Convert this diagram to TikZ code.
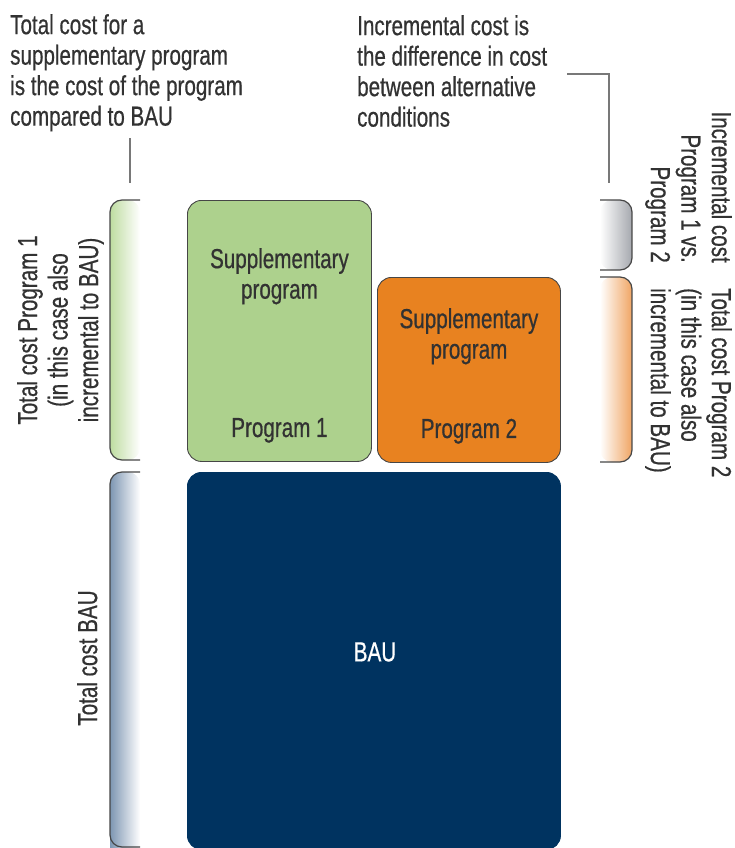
\documentclass[tikz,border=0pt]{standalone}
\usepackage{fontspec}
\setmainfont{Liberation Sans}[FakeStretch=0.75,FakeBold=0.6]
\usetikzlibrary{positioning}

\definecolor{txtgray}{RGB}{50,50,50}
\definecolor{boxline}{RGB}{70,70,70}
\definecolor{leadgray}{RGB}{120,120,120}
\definecolor{progone}{RGB}{173,209,141}
\definecolor{progtwo}{RGB}{232,130,32}
\definecolor{baunavy}{RGB}{0,51,96}
\definecolor{brgreen}{RGB}{190,220,160}
\definecolor{brbau}{RGB}{125,150,178}
\definecolor{brgray}{RGB}{165,168,174}
\definecolor{brorange}{RGB}{240,165,100}

\begin{document}
\begin{tikzpicture}[x=1pt,y=-1pt,
    every node/.style={inner sep=0pt,text=txtgray,font=\fontsize{27.5}{30.5}\selectfont},
    costbox/.style={draw=boxline,line width=0.9pt,rounded corners=14pt,anchor=north west},
    brace/.style={draw=boxline,line width=1.2pt,rounded corners=12pt},
    lead/.style={draw=leadgray,line width=2.6pt}]
\useasboundingbox (0,0) rectangle (735,848);

% notes on top
\node (notea) [anchor=north west,align=left] at (10,14) {Total cost for a\\supplementary program\\is the cost of the program\\compared to BAU};
\node (noteb) [anchor=north west,align=left] at (357,15) {Incremental cost is\\the difference in cost\\between alternative\\conditions};
\coordinate (la) at (130,138); \coordinate (lb) at (130,183);
\coordinate (ra) at (567,74); \coordinate (rb) at (609,183);
\draw [lead] (la) -- (lb);
\draw [lead] (ra) -| (rb);

% cost blocks
\node (p1) [costbox,fill=progone,minimum width=184pt,minimum height=261pt] at (187,200) {};
\node (p2) [costbox,fill=progtwo,minimum width=183pt,minimum height=185pt] at (377,277) {};
\node (bau) [costbox,fill=baunavy,draw=baunavy,minimum width=373pt,minimum height=377pt] at (187,472) {};
\node (s1) [below=48pt of p1.north,align=center] {Supplementary\\program};
\node (n1) [above=19pt of p1.south] {Program 1};
\node (s2) [below=31pt of p2.north,align=center] {Supplementary\\program};
\node (n2) [above=19pt of p2.south] {Program 2};
\node (baut) [text=white] at (375,652) {BAU};

% brackets left
\shade [left color=brgreen,right color=white,rounded corners=12pt] (110,200) rectangle (140,460);
\draw [brace] (140,200) -| (110,460) -- (140,460);
\shade [left color=brbau,right color=white,rounded corners=12pt] (110,472) rectangle (140,860);
\draw [brace] (140,472) -| (110,847) -- (140,847);
% brackets right
\shade [left color=white,right color=brgray,rounded corners=12pt] (600,200) rectangle (632,270);
\draw [brace] (600,200) -| (632,270) -- (600,270);
\shade [left color=white,right color=brorange,rounded corners=12pt] (600,277) rectangle (632,462);
\draw [brace] (600,277) -| (632,462) -- (600,462);

% rotated labels
\node (tp1) [rotate=90,anchor=north,align=center] at (17,330) {Total cost Program 1\\(in this case also\\incremental to BAU)};
\node (tbau) [rotate=90,anchor=north] at (77,658) {Total cost BAU};
\node (inc) [rotate=-90,anchor=north east,align=right] at (732,263) {Incremental cost\\Program 1 vs.\\Program 2};
\node (tp2) [rotate=-90,anchor=north west,align=left] at (732,288) {Total cost Program 2\\(in this case also\\incremental to BAU)};
\end{tikzpicture}
\end{document}
